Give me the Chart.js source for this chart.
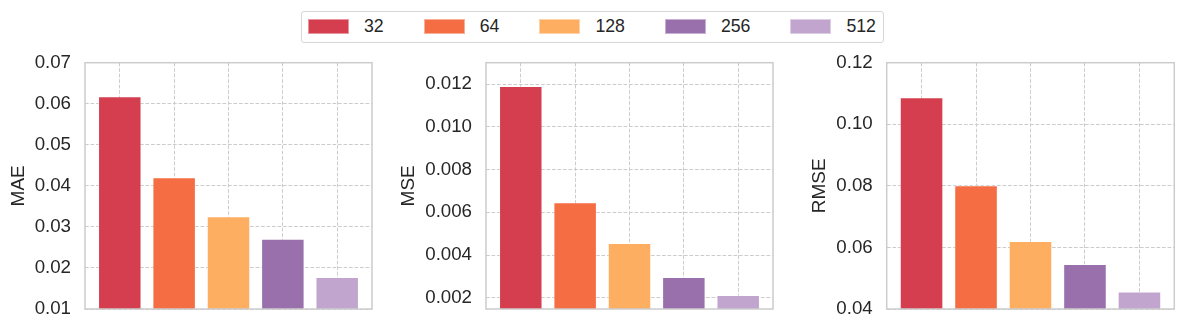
<!DOCTYPE html>
<html>
<head>
<meta charset="utf-8">
<script src="https://cdn.jsdelivr.net/npm/chart.js@4.4.1/dist/chart.umd.min.js"></script>
<style>
  html, body { margin: 0; padding: 0; background: #fff; }
  #wrap { position: relative; width: 1184px; height: 330px; overflow: hidden; font-family: 'Liberation Sans', Arial, sans-serif; }
  canvas { position: absolute; top: 0; }
  .legend-box {
    position: absolute; left: 301px; top: 11px; width: 583px; height: 32px; box-sizing: border-box;
    border: 1px solid #d6d6d6; border-radius: 3px; display: flex; align-items: center; padding-left: 6px;
  }
  .legend-item { display: flex; align-items: center; margin-right: 40px; }
  .legend-item:last-child { margin-right: 0; }
  .legend-swatch { width: 41px; height: 15px; box-sizing: border-box; border: 1px solid rgba(255,255,255,0.45); margin-right: 15px; }
  .legend-text { font-size: 17.7px; color: #262626; line-height: 1; }
</style>
</head>
<body>
<div id="wrap">
  <div class="legend-box" id="legend"></div>
  <canvas id="maeChart" width="390" height="330" style="left:0"></canvas>
  <canvas id="mseChart" width="400" height="330" style="left:390px"></canvas>
  <canvas id="rmseChart" width="394" height="330" style="left:790px"></canvas>
</div>
<script>
// batch sizes + colours
const batchSizes = ['32', '64', '128', '256', '512'];
const barColors = ['#d53e4f', '#f46d43', '#fdae61', '#9970ab', '#c2a5cf'];

// values
const maeValues = [0.0618, 0.0421, 0.0326, 0.0271, 0.0178];
const mseValues = [0.01192, 0.00647, 0.00456, 0.00297, 0.00213];
const rmseValues = [0.1088, 0.0802, 0.0621, 0.0546, 0.0457];

// y ticks
const maeTicks = [0.01, 0.02, 0.03, 0.04, 0.05, 0.06, 0.07];
const mseTicks = [0.002, 0.004, 0.006, 0.008, 0.010, 0.012];
const rmseTicks = [0.04, 0.06, 0.08, 0.10, 0.12];

const textColor = '#262626';
const gridColor = '#cccccc';
const fontFamily = "'Liberation Sans', Arial, sans-serif";

// legend (html, built from the arrays)
const legendEl = document.getElementById('legend');
batchSizes.forEach((b, i) => {
    const item = document.createElement('div');
    item.className = 'legend-item';
    item.innerHTML = `<div class="legend-swatch" style="background:${barColors[i]}"></div><span class="legend-text">${b}</span>`;
    legendEl.appendChild(item);
});

// frame round the plot area, like the matplotlib spines
const framePlugin = {
    id: 'frame',
    afterDatasetsDraw(chart) {
        const { ctx, chartArea: a } = chart;
        ctx.save();
        ctx.strokeStyle = gridColor;
        ctx.lineWidth = 1.5;
        ctx.strokeRect(a.left, a.top, a.right - a.left, a.bottom - a.top);
        ctx.restore();
    }
};

function makeChart(id, title, values, ticks, yMin, yMax, decimals, axisWidth, titlePad, padRight) {
    const ctx = document.getElementById(id).getContext('2d');
    return new Chart(ctx, {
        type: 'bar',
        data: {
            datasets: [{
                label: title,
                data: values.map((v, i) => ({ x: i, y: v })),
                backgroundColor: barColors,
                borderColor: 'rgba(255,255,255,0.4)',
                borderWidth: 1,
                barPercentage: 0.8,
                categoryPercentage: 1
            }]
        },
        options: {
            responsive: false,
            animation: false,
            devicePixelRatio: 1,
            layout: { padding: { left: 0, right: padRight, top: 62.7, bottom: 21 } },
            plugins: { legend: { display: false }, tooltip: { enabled: false } },
            scales: {
                x: {
                    type: 'linear',
                    offset: false,
                    min: -0.64,
                    max: 4.64,
                    afterBuildTicks: (scale) => { scale.ticks = batchSizes.map((b, i) => ({ value: i })); },
                    afterFit: (scale) => { scale.height = 0; },
                    grid: { color: gridColor, lineWidth: 1, drawTicks: false, offset: false },
                    border: { display: false, dash: [3.7, 1.8] },
                    ticks: { display: false }
                },
                y: {
                    min: yMin,
                    max: yMax,
                    afterBuildTicks: (scale) => { scale.ticks = ticks.map(v => ({ value: v })); },
                    afterFit: (scale) => {
                        scale.width = axisWidth;
                        // the tick padding would otherwise push the plot bottom up
                        scale.paddingTop = 0;
                        scale.paddingBottom = 0;
                    },
                    grid: { color: gridColor, lineWidth: 1, drawTicks: false },
                    border: { display: false, dash: [3.7, 1.8] },
                    ticks: {
                        color: textColor,
                        padding: 14,
                        font: { family: fontFamily, size: 18.7 },
                        callback: (v) => Number(v).toFixed(decimals)
                    },
                    title: {
                        display: true,
                        text: title,
                        color: textColor,
                        font: { family: fontFamily, size: 19 },
                        padding: { top: titlePad, bottom: 0 }
                    }
                }
            }
        },
        plugins: [framePlugin]
    });
}

makeChart('maeChart', 'MAE', maeValues, maeTicks, 0.01, 0.07, 2, 85, 7.6, 18);
makeChart('mseChart', 'MSE', mseValues, mseTicks, 0.00147, 0.01301, 3, 96, 7.6, 17);
makeChart('rmseChart', 'RMSE', rmseValues, rmseTicks, 0.04, 0.12, 2, 96.7, 18.6, 9.7);
</script>
</body>
</html>
